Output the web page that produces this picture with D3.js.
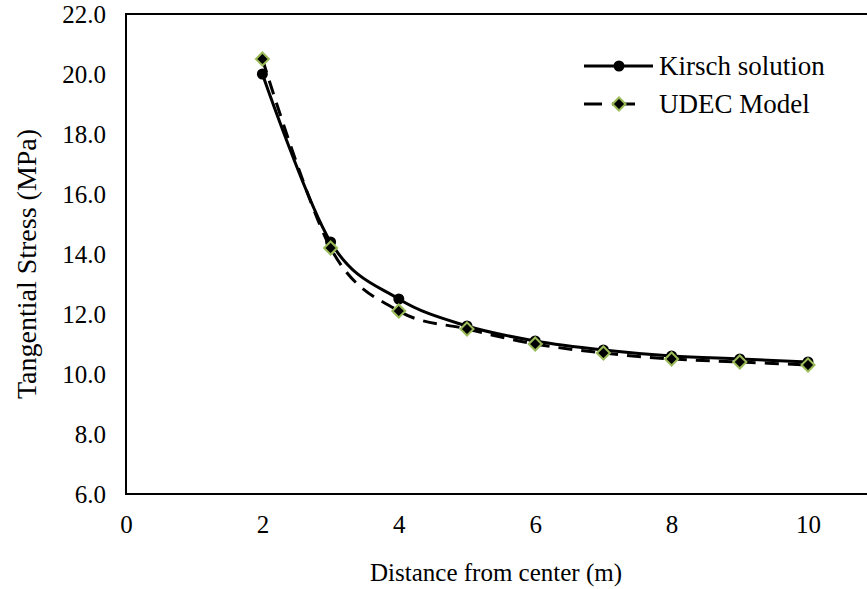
<!DOCTYPE html>
<html><head><meta charset="utf-8">
<script src="https://cdn.jsdelivr.net/npm/d3@7"></script>
<style>body{margin:0;background:#fff} svg{display:block} text{font-family:"Liberation Serif","Times New Roman",serif;fill:#000}</style>
</head><body><svg id="c" width="867" height="589"></svg>
<script>
const distances = [2, 3, 4, 5, 6, 7, 8, 9, 10];
const kirsch = [20.0, 14.4, 12.5, 11.6, 11.1, 10.8, 10.6, 10.5, 10.4];
const udec = [20.5, 14.2, 12.1, 11.5, 11.0, 10.7, 10.5, 10.4, 10.3];
const xTicks = [0, 2, 4, 6, 8, 10];
const yTicks = [6, 8, 10, 12, 14, 16, 18, 20, 22];
const seriesNames = ["Kirsch solution", "UDEC Model"];
const xTitle = "Distance from center (m)";
const yTitle = "Tangential Stress (MPa)";

const svg = d3.select("#c");
const L = 126, T = 14, B = 494;
const x = d3.scaleLinear().domain([0, 12]).range([L, L + 12 * 68.2]);
const y = d3.scaleLinear().domain([6, 22]).range([B, T]);
const fs = 25;

// frame
svg.append("rect").attr("x", L).attr("y", T).attr("width", x(12) - L).attr("height", B - T)
  .attr("fill", "none").attr("stroke", "#000").attr("stroke-width", 2);

// axes
const xa = svg.append("g").attr("transform", `translate(0,${B})`)
  .call(d3.axisBottom(x).tickValues(xTicks).tickSize(0).tickPadding(21).tickFormat(d3.format("d")));
xa.select(".domain").remove();
xa.selectAll("text").attr("font-size", fs).attr("font-family", '"Liberation Serif",serif').attr("fill", "#000");

const ya = svg.append("g").attr("transform", `translate(${L},0)`)
  .call(d3.axisLeft(y).tickValues(yTicks).tickSize(0).tickPadding(20).tickFormat(d3.format(".1f")));
ya.select(".domain").remove();
ya.selectAll("text").attr("font-size", fs).attr("font-family", '"Liberation Serif",serif').attr("fill", "#000");

// titles
svg.append("text").attr("x", 496).attr("y", 581).attr("text-anchor", "middle")
  .attr("font-size", 25).text(xTitle);
svg.append("text").attr("transform", "translate(36,264) rotate(-90)").attr("text-anchor", "middle")
  .attr("font-size", 28).text(yTitle);

const kData = distances.map((d, i) => [d, kirsch[i]]);
const uData = distances.map((d, i) => [d, udec[i]]);
const line = d3.line().x(d => x(d[0])).y(d => y(d[1])).curve(d3.curveCardinal.tension(0));
const diamond = r => `M0,${-r}L${r},0L0,${r}L${-r},0Z`;
const dash = "14,9";

// Kirsch
svg.append("path").datum(kData).attr("d", line).attr("fill", "none")
  .attr("stroke", "#000").attr("stroke-width", 3);
svg.append("g").selectAll("circle").data(kData).join("circle")
  .attr("cx", d => x(d[0])).attr("cy", d => y(d[1])).attr("r", 5.5).attr("fill", "#000");

// UDEC
svg.append("path").datum(uData).attr("d", line).attr("fill", "none")
  .attr("stroke", "#000").attr("stroke-width", 3).attr("stroke-dasharray", dash);
svg.append("g").selectAll("path").data(uData).join("path")
  .attr("transform", d => `translate(${x(d[0])},${y(d[1])})`).attr("d", diamond(6.5))
  .attr("fill", "#000").attr("stroke", "#9BBB59").attr("stroke-width", 2);

// legend
const lg = svg.append("g");
lg.append("line").attr("x1", 584).attr("x2", 653).attr("y1", 66).attr("y2", 66)
  .attr("stroke", "#000").attr("stroke-width", 3);
lg.append("circle").attr("cx", 619).attr("cy", 66).attr("r", 5.5).attr("fill", "#000");
lg.append("text").attr("x", 659).attr("y", 66).attr("dy", "0.35em").attr("font-size", 27).text(seriesNames[0]);
lg.append("line").attr("x1", 584).attr("x2", 653).attr("y1", 104).attr("y2", 104)
  .attr("stroke", "#000").attr("stroke-width", 3).attr("stroke-dasharray", "18,10,23,100");
lg.append("path").attr("transform", "translate(619,104)").attr("d", diamond(6.5))
  .attr("fill", "#000").attr("stroke", "#9BBB59").attr("stroke-width", 2);
lg.append("text").attr("x", 659).attr("y", 104).attr("dy", "0.35em").attr("font-size", 27).text(seriesNames[1]);
</script></body></html>
